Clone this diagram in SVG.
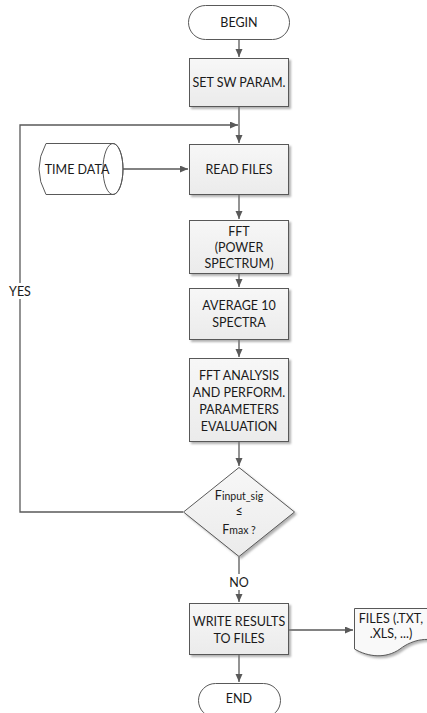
<svg xmlns="http://www.w3.org/2000/svg" width="427" height="713" viewBox="0 0 427 713">
<style>
.box{fill:url(#g);stroke:#595959;stroke-width:1;filter:url(#sh)}
.term{fill:#ffffff;stroke:#595959;stroke-width:1}
.t{font-family:Lato,"Liberation Sans",sans-serif;font-size:12.5px;fill:#1a1a1a;text-anchor:middle}
.c{fill:none;stroke:#595959;stroke-width:1.3}
</style>
<defs>
<linearGradient id="g" x1="0" y1="0" x2="0" y2="1"><stop offset="0" stop-color="#f7f7f7"/><stop offset="1" stop-color="#ebebeb"/></linearGradient>
<filter id="sh" x="-10%" y="-10%" width="130%" height="130%"><feDropShadow dx="2" dy="2" stdDeviation="0.8" flood-color="#7f7f7f" flood-opacity="0.6"/></filter>
<marker id="a" markerUnits="userSpaceOnUse" markerWidth="9" markerHeight="8" refX="8" refY="3.5" orient="auto"><path d="M0,0 L8,3.5 L0,7 z" fill="#595959"/></marker>
</defs>
<g id="connectors">
<path class="c" d="M239,40 V57" marker-end="url(#a)"/>
<path class="c" d="M239,107 V143" marker-end="url(#a)"/>
<path class="c" d="M183,512 H20 V125 H238" marker-end="url(#a)"/>
<path class="c" d="M115,169 H188" marker-end="url(#a)"/>
<path class="c" d="M239,195 V219" marker-end="url(#a)"/>
<path class="c" d="M239,274 V287" marker-end="url(#a)"/>
<path class="c" d="M239,340 V357" marker-end="url(#a)"/>
<path class="c" d="M239,442 V466" marker-end="url(#a)"/>
<path class="c" d="M239,557 V602" marker-end="url(#a)"/>
<path class="c" d="M239,655 V682" marker-end="url(#a)"/>
<path class="c" d="M289,630 H353" marker-end="url(#a)"/>
<rect x="8" y="283" width="26" height="16" fill="#ffffff"/>
<text class="t" x="20" y="296">YES</text>
<rect x="226" y="574" width="26" height="16" fill="#ffffff"/>
<text class="t" x="239" y="587">NO</text>
</g>
<g id="begin"><rect class="term" x="188.5" y="5.5" width="101" height="34" rx="17"/><text class="t" x="239" y="27">BEGIN</text></g>
<g id="setsw"><rect class="box" x="189.5" y="58.5" width="99" height="48"/><text class="t" x="239" y="87">SET SW PARAM.</text></g>
<g id="timedata">
<path d="M46,143.5 H113 A10,25.5 0 0 1 113,194.5 H46 Q32,169 46,143.5 Z" fill="#ffffff" stroke="#595959"/>
<ellipse cx="113" cy="169" rx="10" ry="25.5" fill="none" stroke="#595959"/>
<text class="t" x="77" y="174">TIME DATA</text>
</g>
<g id="readfiles"><rect class="box" x="189.5" y="144.5" width="99" height="50"/><text class="t" x="239" y="174">READ FILES</text></g>
<g id="fft"><rect class="box" x="189.5" y="220.5" width="99" height="53"/>
<text class="t" x="239" y="236">FFT</text><text class="t" x="239" y="252">(POWER</text><text class="t" x="239" y="268">SPECTRUM)</text></g>
<g id="average"><rect class="box" x="189.5" y="288.5" width="99" height="51"/>
<text class="t" x="239" y="310">AVERAGE 10</text><text class="t" x="239" y="327">SPECTRA</text></g>
<g id="analysis"><rect class="box" x="189.5" y="358.5" width="99" height="83"/>
<text class="t" x="239" y="380">FFT ANALYSIS</text><text class="t" x="239" y="397">AND PERFORM.</text><text class="t" x="239" y="414">PARAMETERS</text><text class="t" x="239" y="431">EVALUATION</text></g>
<g id="decision"><path class="box" d="M239,467.5 L294.5,512 L239,556.5 L183.5,512 Z"/>
<text class="t" x="239" y="500">F<tspan font-size="10.5px">input_sig</tspan></text>
<text class="t" x="239" y="516">≤</text>
<text class="t" x="239" y="534">F<tspan font-size="10.5px">max ?</tspan></text></g>
<g id="write"><rect class="box" x="189.5" y="603.5" width="99" height="51"/>
<text class="t" x="239" y="626">WRITE RESULTS</text><text class="t" x="239" y="643">TO FILES</text></g>
<g id="files"><path d="M354.5,608.5 H445 V644 C430,636 413,639 400,649 C386,659 368,657 354.5,649 Z" fill="#f9f9f9" stroke="#595959" filter="url(#sh)"/>
<text class="t" x="391" y="623">FILES (.TXT,</text><text class="t" x="391" y="638">.XLS, ...)</text></g>
<g id="end"><rect class="term" x="198.5" y="683.5" width="82" height="34" rx="17"/><text class="t" x="239" y="703">END</text></g>
</svg>
